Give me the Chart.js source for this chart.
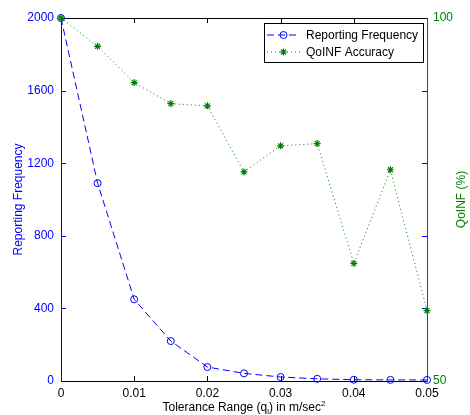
<!DOCTYPE html>
<html>
<head>
<meta charset="utf-8">
<script src="https://cdn.jsdelivr.net/npm/chart.js@4.4.0/dist/chart.umd.min.js"></script>
<style>
  html, body { margin: 0; padding: 0; background: #fff; }
</style>
</head>
<body>
<canvas id="chart" width="470" height="415"></canvas>
<script>
// tolerance range values (x axis)
const tolerance = [0, 0.005, 0.01, 0.015, 0.02, 0.025, 0.03, 0.035, 0.04, 0.045, 0.05];
// left axis series
const reportingFreq = [2000, 1090, 450, 220, 77, 42, 22, 12, 7, 6, 6];
// right axis series (%)
const qoinfAccuracy = [100, 96.1, 91.1, 88.2, 87.9, 78.8, 82.4, 82.7, 66.2, 79.1, 59.7];

const seriesLabels = ['Reporting Frequency', 'QoINF Accuracy'];
const yTitle = 'Reporting Frequency';
const y1Title = 'QoINF (%)';

const BLUE = '#0000ff';
const GREEN = '#008000';
const FONT = 'Liberation Sans, Arial, Helvetica, sans-serif';

function toPoints(xs, ys) {
  return xs.map((x, i) => ({ x: x, y: ys[i] }));
}

// frame + inward ticks like the original figure
const framePlugin = {
  id: 'frame',
  beforeDatasetsDraw(chart) {
    const ctx = chart.ctx;
    const a = chart.chartArea;
    const xs = chart.scales.x;
    const ys = chart.scales.y;
    const tl = 5;
    ctx.save();
    ctx.lineWidth = 1;

    // x ticks, bottom and top
    ctx.strokeStyle = '#000';
    ctx.beginPath();
    xs.ticks.forEach(t => {
      const px = Math.round(xs.getPixelForValue(t.value)) + 0.5;
      ctx.moveTo(px, a.bottom); ctx.lineTo(px, a.bottom - tl);
      ctx.moveTo(px, a.top); ctx.lineTo(px, a.top + tl);
    });
    ctx.stroke();

    // left ticks mirrored on the right
    ctx.strokeStyle = BLUE;
    ctx.beginPath();
    ys.ticks.forEach(t => {
      const py = Math.round(ys.getPixelForValue(t.value)) + 0.5;
      ctx.moveTo(a.left, py); ctx.lineTo(a.left + tl, py);
      ctx.moveTo(a.right, py); ctx.lineTo(a.right - tl, py);
    });
    ctx.stroke();

    // box
    const l = Math.round(a.left) + 0.5, r = Math.round(a.right) + 0.5;
    const t = Math.round(a.top) + 0.5, b = Math.round(a.bottom) + 0.5;
    ctx.strokeStyle = '#000';
    ctx.beginPath();
    ctx.moveTo(l, t); ctx.lineTo(r, t);
    ctx.moveTo(l, b); ctx.lineTo(r, b);
    ctx.stroke();
    ctx.strokeStyle = BLUE;
    ctx.beginPath();
    ctx.moveTo(l, t); ctx.lineTo(l, b);
    ctx.stroke();
    ctx.strokeStyle = '#105a5a';
    ctx.beginPath();
    ctx.moveTo(r, t); ctx.lineTo(r, b);
    ctx.stroke();
    ctx.restore();
  },
  afterDraw(chart) {
    const ctx = chart.ctx;
    const a = chart.chartArea;
    ctx.save();

    // x axis title with subscript / superscript
    const big = '12px ' + FONT;
    const small = '8px ' + FONT;
    const parts = [
      { t: 'Tolerance Range (q', f: big, dy: 0 },
      { t: 'l', f: small, dy: 3 },
      { t: ') in m/sec', f: big, dy: 0 },
      { t: '2', f: small, dy: -5 }
    ];
    let total = 0;
    parts.forEach(p => { ctx.font = p.f; p.w = ctx.measureText(p.t).width; total += p.w; });
    let x = (a.left + a.right) / 2 - total / 2;
    const base = 411;
    ctx.fillStyle = '#000';
    ctx.textBaseline = 'alphabetic';
    ctx.textAlign = 'left';
    parts.forEach(p => { ctx.font = p.f; ctx.fillText(p.t, x, base + p.dy); x += p.w; });

    // right axis title, reading bottom to top
    ctx.save();
    ctx.translate(462, (a.top + a.bottom) / 2);
    ctx.rotate(-Math.PI / 2);
    ctx.font = big;
    ctx.fillStyle = GREEN;
    ctx.textAlign = 'center';
    ctx.textBaseline = 'middle';
    ctx.fillText(y1Title, 0, 0);
    ctx.restore();

    // legend box
    const lx = 264.5, ly = 23.5, lw = 159, lh = 39;
    ctx.fillStyle = '#fff';
    ctx.fillRect(lx, ly, lw, lh);
    ctx.strokeStyle = '#000';
    ctx.lineWidth = 1;
    ctx.strokeRect(lx, ly, lw, lh);
    chart.data.datasets.forEach((ds, i) => {
      const cy = 35 + i * 17;
      ctx.save();
      ctx.strokeStyle = ds.borderColor;
      ctx.lineWidth = ds.borderWidth;
      ctx.setLineDash(ds.borderDash);
      ctx.beginPath();
      ctx.moveTo(267, cy); ctx.lineTo(300, cy);
      ctx.stroke();
      ctx.restore();
      ctx.save();
      ctx.strokeStyle = ds.pointBorderColor;
      ctx.fillStyle = ds.pointBackgroundColor;
      ctx.lineWidth = ds.pointBorderWidth;
      Chart.helpers.drawPoint(ctx, { pointStyle: ds.pointStyle, radius: ds.pointRadius, borderWidth: ds.pointBorderWidth }, 283.5, cy);
      ctx.restore();
      ctx.font = big;
      ctx.fillStyle = '#000';
      ctx.textAlign = 'left';
      ctx.textBaseline = 'middle';
      ctx.fillText(ds.label, 306, cy + 1);
    });
    ctx.restore();
  }
};

new Chart(document.getElementById('chart'), {
  type: 'line',
  data: {
    datasets: [
      {
        label: seriesLabels[0],
        data: toPoints(tolerance, reportingFreq),
        yAxisID: 'y',
        order: 1,
        borderColor: BLUE,
        borderWidth: 1,
        borderDash: [7, 4],
        pointStyle: 'circle',
        pointRadius: 3.5,
        pointBorderColor: BLUE,
        pointBackgroundColor: 'rgba(0,0,0,0)',
        pointBorderWidth: 1,
        tension: 0,
        fill: false,
        clip: false
      },
      {
        label: seriesLabels[1],
        data: toPoints(tolerance, qoinfAccuracy),
        yAxisID: 'y1',
        order: 0,
        borderColor: GREEN,
        borderWidth: 1,
        borderDash: [1, 3],
        pointStyle: 'star',
        pointRadius: 3.5,
        pointBorderColor: GREEN,
        pointBackgroundColor: GREEN,
        pointBorderWidth: 1.2,
        tension: 0,
        fill: false,
        clip: false
      }
    ]
  },
  options: {
    responsive: false,
    animation: false,
    devicePixelRatio: 1,
    layout: { padding: { top: 18, left: 0, right: 0, bottom: 0 } },
    plugins: {
      legend: { display: false },
      tooltip: { enabled: false }
    },
    scales: {
      x: {
        type: 'linear',
        min: 0,
        max: 0.05,
        grid: { display: false, drawTicks: false },
        border: { display: false },
        ticks: {
          stepSize: 0.01,
          color: '#000',
          padding: 5,
          maxRotation: 0,
          font: { family: FONT, size: 12 },
          callback: v => String(Number(v.toFixed(3)))
        },
        afterFit: s => { s.height = 34; }
      },
      y: {
        position: 'left',
        min: 0,
        max: 2000,
        grid: { display: false, drawTicks: false },
        border: { display: false },
        ticks: {
          stepSize: 400,
          color: BLUE,
          padding: 7,
          font: { family: FONT, size: 12 },
          callback: v => String(v)
        },
        title: {
          display: true,
          text: yTitle,
          color: BLUE,
          font: { family: FONT, size: 12 },
          padding: { top: 11, bottom: 0 }
        },
        afterFit: s => { s.width = 61; }
      },
      y1: {
        position: 'right',
        min: 50,
        max: 100,
        grid: { display: false, drawTicks: false },
        border: { display: false },
        ticks: {
          stepSize: 50,
          color: GREEN,
          padding: 6,
          font: { family: FONT, size: 12 },
          callback: v => String(v)
        },
        afterFit: s => { s.width = 43; }
      }
    }
  },
  plugins: [framePlugin]
});
</script>
</body>
</html>
